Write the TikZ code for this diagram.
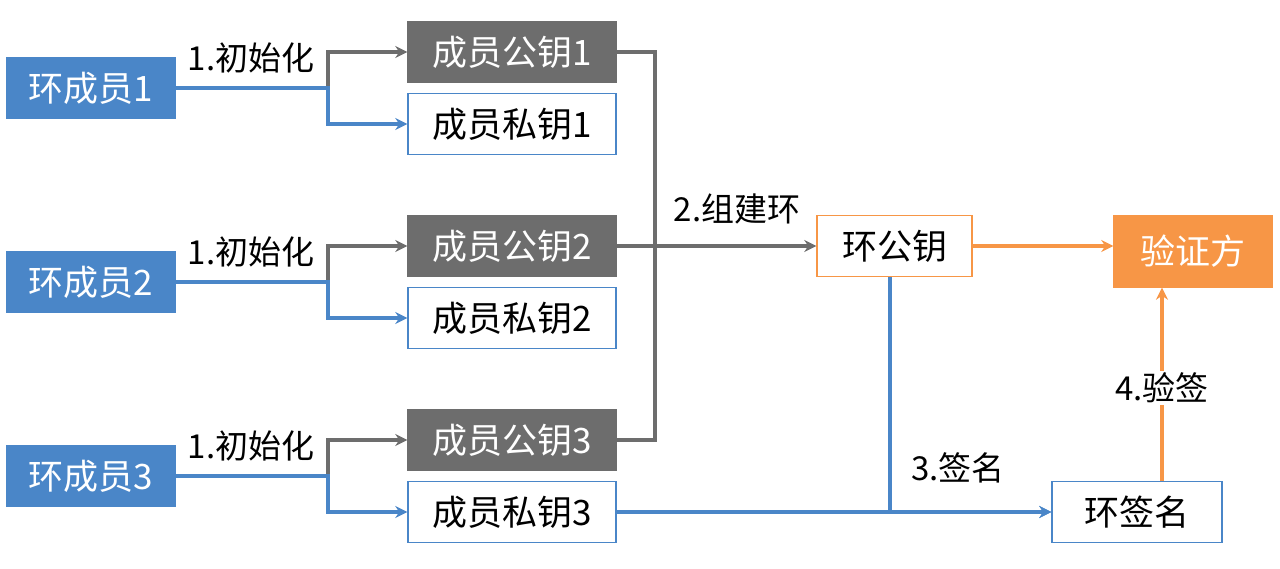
\documentclass[tikz,border=0pt]{standalone}
\usepackage{fontspec}
\setmainfont{Noto Sans CJK SC}
\usetikzlibrary{arrows.meta}
\definecolor{bl}{HTML}{4A86C8}
\definecolor{gr}{HTML}{6D6D6D}
\definecolor{or}{HTML}{F79646}
\begin{document}
\begin{tikzpicture}[x=0.5pt,y=-0.5pt,
 box/.style={draw, minimum width=104pt, minimum height=30.5pt, inner sep=0pt, font=\fontsize{17.5}{19}\selectfont, line width=0.7pt},
 mem/.style={box, fill=bl, draw=bl, text=white, minimum width=84pt},
 pub/.style={box, fill=gr, draw=gr, text=white},
 pri/.style={box, fill=white, draw=bl, text=black},
 lab/.style={font=\fontsize{16.5}{18}\selectfont},
 ga/.style={draw=gr, line width=1.6pt, -{Stealth[length=6pt,width=6pt]}},
 ba/.style={draw=bl, line width=1.6pt, -{Stealth[length=6pt,width=6pt]}},
 oa/.style={draw=or, line width=1.6pt, -{Stealth[length=6pt,width=6pt]}}]
\useasboundingbox (0,0) rectangle (1280,568);
\foreach \i/\y in {1/88,2/282,3/476}{
 \node[mem] (m\i) at (91,\y) {环成员\i};
 \node[pub] (p\i) at (512,\y-36) {成员公钥\i};
 \node[pri] (s\i) at (512,\y+36) {成员私钥\i};
 \coordinate (j\i) at (328,\y);
 \draw[ga] (m\i.east) -- (j\i) |- (p\i.west);
 \draw[ba] (m\i.east) -- (j\i) |- (s\i.west);
 \node[lab] (l\i) at (251,\y-30) {1.初始化};
}
\node[box, draw=or, minimum width=77.5pt] (rp) at (894.5,246) {环公钥};
\node[box, fill=or, draw=or, text=white, minimum width=79pt, minimum height=35.5pt] (v) at (1193,251.5) {验证方};
\node[box, draw=bl, minimum width=85pt] (rs) at (1137,512) {环签名};
\coordinate (c1) at (655,52);
\coordinate (c3) at (655,440);
\coordinate (c2) at (655,246);
\draw[gr, line width=1.6pt] (p1.east) -- (c1) -- (c3) -- (p3.east);
\draw[ga] (p2.east) -- (c2) -- (rp.west);
\node[lab] (l2) at (737,209) {2.组建环};
\draw[oa] (rp.east) -- (rp.east -| v.west);
\coordinate (d) at (890,512);
\draw[ba] (s3.east) -- (rs.west);
\draw[ba] (890,277) -- (d) -- (rs.west);
\node[lab] (l3) at (958,468) {3.签名};
\draw[oa] (rs.north -| 1162,0) -- (v.south -| 1162,0);
\node[lab, fill=white, inner sep=1pt] (l4) at (1162,388) {4.验签};
\end{tikzpicture}
\end{document}
